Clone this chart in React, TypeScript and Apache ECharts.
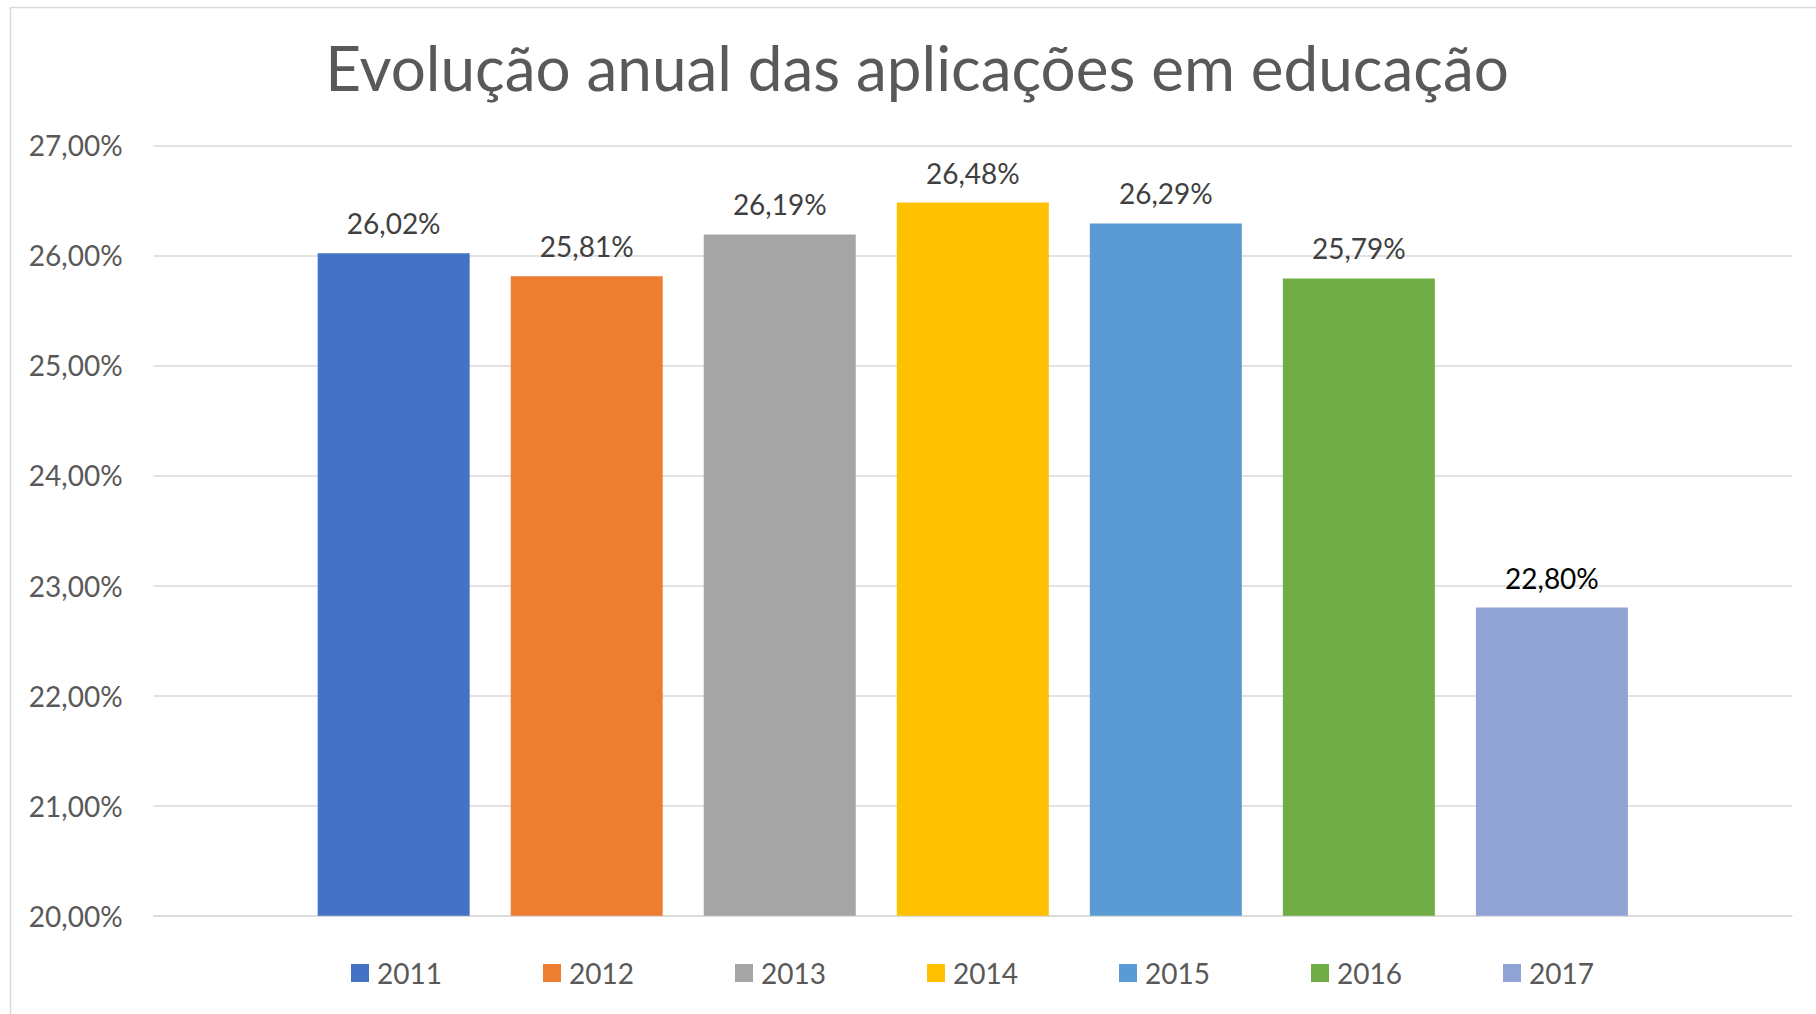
import React, { useEffect, useRef } from "react";
import * as echarts from "echarts";

const years = ["2011", "2012", "2013", "2014", "2015", "2016", "2017"];
const values = [26.02, 25.81, 26.19, 26.48, 26.29, 25.79, 22.8];
const colors = ["#4472C4", "#ED7D31", "#A5A5A5", "#FFC000", "#5B9BD5", "#70AD47", "#8FA4D4"];
const labelColors = ["#404040", "#404040", "#404040", "#404040", "#404040", "#404040", "#000000"];
const yMin = 20;
const yMax = 27;
const yStep = 1;
const titleText = "Evolução anual das aplicações em educação";

const FONT = "Lato";

const fmt = (v: number) => v.toFixed(2).replace(".", ",") + "%";

export default function App() {
  const ref = useRef<HTMLDivElement>(null);
  useEffect(() => {
    if (!ref.current) return;
    const chart = echarts.init(ref.current, null, { renderer: "svg" });
    chart.setOption({
      animation: false,
      backgroundColor: "#ffffff",
      title: {
        text: titleText,
        left: 917,
        textAlign: "center",
        top: 36,
        padding: 0,
        textStyle: { fontFamily: FONT, fontSize: 62, fontWeight: "normal", color: "#595959" },
      },
      graphic: [
        {
          type: "rect",
          shape: { x: 10.5, y: 7.5, width: 1900, height: 1100 },
          style: { fill: "none", stroke: "#D9D9D9", lineWidth: 1.5 },
          silent: true,
        },
      ],
      legend: {
        left: 351,
        top: 956,
        padding: 0,
        itemWidth: 18,
        itemHeight: 18,
        itemGap: 66,
        icon: "rect",
        data: years,
        textStyle: {
          fontFamily: FONT,
          fontSize: 28,
          color: "#595959",
          lineHeight: 34,
          width: 100,
          padding: [0, 0, 0, 3],
        },
      },
      grid: { left: 153.6, right: 24, top: 145.3, bottom: 98.3, containLabel: false },
      xAxis: {
        type: "category",
        data: [""],
        axisLine: { show: true, lineStyle: { color: "#D9D9D9", width: 1.5 } },
        axisTick: { show: false },
        axisLabel: { show: false },
      },
      yAxis: {
        type: "value",
        min: yMin,
        max: yMax,
        interval: yStep,
        axisLine: { show: false },
        axisTick: { show: false },
        splitLine: { lineStyle: { color: "#D9D9D9", width: 1.5 } },
        axisLabel: {
          formatter: (v: number) => fmt(v),
          fontFamily: FONT,
          fontSize: 28,
          color: "#595959",
          margin: 31,
        },
      },
      series: years.map((y, i) => ({
        name: y,
        type: "bar",
        data: [values[i]],
        barWidth: 152,
        barGap: "27%",
        itemStyle: { color: colors[i] },
        label: {
          show: true,
          position: "top",
          distance: 16,
          formatter: (p: any) => fmt(p.value),
          fontFamily: FONT,
          fontSize: 28,
          color: labelColors[i],
        },
      })),
    });
    return () => chart.dispose();
  }, []);
  return (
    <div
      ref={ref}
      style={{ position: "fixed", left: 0, top: 0, width: 1816, height: 1014 }}
    />
  );
}
